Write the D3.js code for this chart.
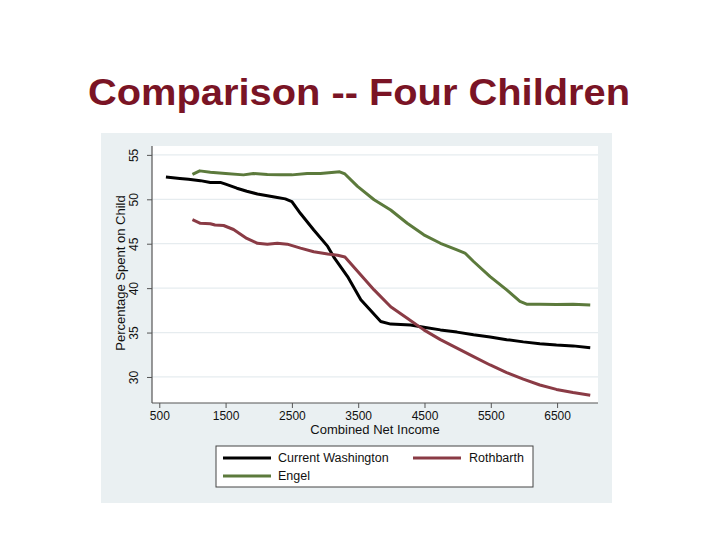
<!DOCTYPE html>
<html>
<head>
<meta charset="utf-8">
<script src="https://cdn.jsdelivr.net/npm/d3@7"></script>
<style>
  body { margin: 0; background: #fff; }
  svg text { font-family: "Liberation Sans", Arial, sans-serif; }
</style>
</head>
<body>
<script>
// data
const incomeWashington = [600, 810, 940, 1120, 1270, 1420, 1500, 1670, 1820, 1980, 2130, 2280, 2400, 2500, 2630, 2830, 3040, 3140, 3340, 3540, 3840, 3990, 4290, 4490, 4740, 4990, 5240, 5490, 5740, 5990, 6240, 6490, 6740, 7000]
const washington = [52.5, 52.35, 52.25, 52.1, 51.9, 51.9, 51.7, 51.25, 50.9, 50.6, 50.4, 50.2, 50.05, 49.75, 48.4, 46.55, 44.7, 43.4, 41.3, 38.7, 36.25, 35.95, 35.85, 35.6, 35.3, 35.05, 34.75, 34.5, 34.2, 33.95, 33.75, 33.6, 33.5, 33.3]

const incomeEngel = [1000, 1110, 1270, 1500, 1770, 1920, 2130, 2330, 2500, 2730, 2930, 3140, 3220, 3300, 3490, 3740, 3990, 4240, 4490, 4740, 4990, 5110, 5240, 5490, 5740, 5940, 6040, 6240, 6490, 6740, 7000]
const engel = [52.8, 53.2, 53.05, 52.9, 52.75, 52.9, 52.8, 52.75, 52.75, 52.9, 52.9, 53.05, 53.1, 52.85, 51.45, 49.95, 48.8, 47.3, 46.0, 45.05, 44.3, 43.95, 43.0, 41.3, 39.8, 38.5, 38.2, 38.2, 38.15, 38.2, 38.1]

const incomeRothbarth = [1000, 1120, 1270, 1340, 1470, 1620, 1820, 1980, 2130, 2280, 2430, 2630, 2830, 3040, 3190, 3300, 3490, 3740, 3990, 4240, 4490, 4740, 4990, 5240, 5490, 5740, 5990, 6240, 6490, 6740, 7000]
const rothbarth = [47.7, 47.3, 47.25, 47.1, 47.05, 46.6, 45.6, 45.05, 44.95, 45.05, 44.95, 44.5, 44.1, 43.85, 43.7, 43.5, 41.9, 39.8, 37.9, 36.6, 35.3, 34.2, 33.25, 32.3, 31.35, 30.5, 29.75, 29.1, 28.6, 28.25, 27.95]

const xTicks = [500, 1500, 2500, 3500, 4500, 5500, 6500]
const yTicks = [30, 35, 40, 45, 50, 55]
const seriesNames = ["Current Washington", "Rothbarth", "Engel"]
const seriesColors = ["#000000", "#8a3b45", "#5c7a3c"]

function main() {
    var svg = d3.select("body").append("svg")
        .attr("width", 720)
        .attr("height", 540)

    // title
    svg.append("text")
        .attr("x", 88)
        .attr("y", 105)
        .attr("textLength", 542)
        .attr("lengthAdjust", "spacingAndGlyphs")
        .style("font-size", "36px")
        .style("font-weight", "bold")
        .attr("fill", "#7a1425")
        .text("Comparison -- Four Children")

    // outer graph region
    svg.append("rect")
        .attr("x", 101).attr("y", 133)
        .attr("width", 511).attr("height", 370)
        .attr("fill", "#eaf0f2")

    var plot = {left: 152, right: 598, top: 146, bottom: 403}

    svg.append("rect")
        .attr("x", plot.left).attr("y", plot.top)
        .attr("width", plot.right - plot.left).attr("height", plot.bottom - plot.top)
        .attr("fill", "#ffffff")

    var x = d3.scaleLinear().domain([390, 7117]).range([plot.left, plot.right])
    var y = d3.scaleLinear().domain([27.07, 56]).range([plot.bottom, plot.top])

    // gridlines
    svg.append("g").selectAll("line")
        .data(yTicks)
        .enter().append("line")
        .attr("x1", plot.left).attr("x2", plot.right)
        .attr("y1", d => y(d)).attr("y2", d => y(d))
        .attr("stroke", "#e6ecef")
        .attr("stroke-width", 1.2)

    // axes
    var xAxis = svg.append("g")
        .attr("transform", "translate(0," + plot.bottom + ")")
        .call(d3.axisBottom(x).tickValues(xTicks).tickSize(5).tickPadding(3).tickFormat(d3.format("d")))
    var yAxis = svg.append("g")
        .attr("transform", "translate(" + plot.left + ",0)")
        .call(d3.axisLeft(y).tickValues(yTicks).tickSize(5).tickPadding(5))

    ;[xAxis, yAxis].forEach(function(a) {
        a.select(".domain").attr("stroke", "#555").attr("stroke-width", 1.2)
            .attr("d", a === xAxis ? "M" + plot.left + ",0H" + plot.right : "M0," + plot.top + "V" + plot.bottom)
        a.selectAll(".tick line").attr("stroke", "#555")
        a.selectAll(".tick text").style("font-size", "12px").attr("fill", "#111")
    })

    // rotate y tick labels like the original
    yAxis.selectAll(".tick text")
        .attr("text-anchor", "middle")
        .attr("x", null).attr("dy", null)
        .attr("transform", "translate(-14,0) rotate(-90)")
        .attr("y", 0)

    // axis titles
    svg.append("text")
        .attr("x", 375).attr("y", 434)
        .attr("text-anchor", "middle")
        .style("font-size", "13px")
        .attr("fill", "#111")
        .text("Combined Net Income")

    svg.append("text")
        .attr("transform", "translate(125,273) rotate(-90)")
        .attr("text-anchor", "middle")
        .style("font-size", "13px")
        .attr("fill", "#111")
        .text("Percentage Spent on Child")

    // lines
    var line = d3.line().x(d => x(d[0])).y(d => y(d[1]))
    var series = [
        {name: seriesNames[0], color: seriesColors[0], pts: d3.zip(incomeWashington, washington)},
        {name: seriesNames[1], color: seriesColors[1], pts: d3.zip(incomeRothbarth, rothbarth)},
        {name: seriesNames[2], color: seriesColors[2], pts: d3.zip(incomeEngel, engel)}
    ]
    svg.append("g").selectAll("path")
        .data(series)
        .enter().append("path")
        .attr("d", d => line(d.pts))
        .attr("fill", "none")
        .attr("stroke", d => d.color)
        .attr("stroke-width", 3)
        .attr("stroke-linejoin", "round")

    // legend
    svg.append("rect")
        .attr("x", 216).attr("y", 446)
        .attr("width", 317).attr("height", 41)
        .attr("fill", "#fff")
        .attr("stroke", "#444")
        .attr("stroke-width", 1)

    var legendPos = [[223, 458], [413, 458], [223, 476]]
    var lg = svg.append("g").selectAll("g")
        .data(series)
        .enter().append("g")
        .attr("transform", (d, i) => "translate(" + legendPos[i][0] + "," + legendPos[i][1] + ")")
    lg.append("line")
        .attr("x1", 0).attr("x2", 48)
        .attr("stroke", d => d.color)
        .attr("stroke-width", 3)
    lg.append("text")
        .attr("x", (d, i) => i == 1 ? 56 : 55)
        .attr("dy", "0.35em")
        .style("font-size", "12.5px")
        .attr("fill", "#111")
        .text(d => d.name)
}

main();
</script>
</body>
</html>
